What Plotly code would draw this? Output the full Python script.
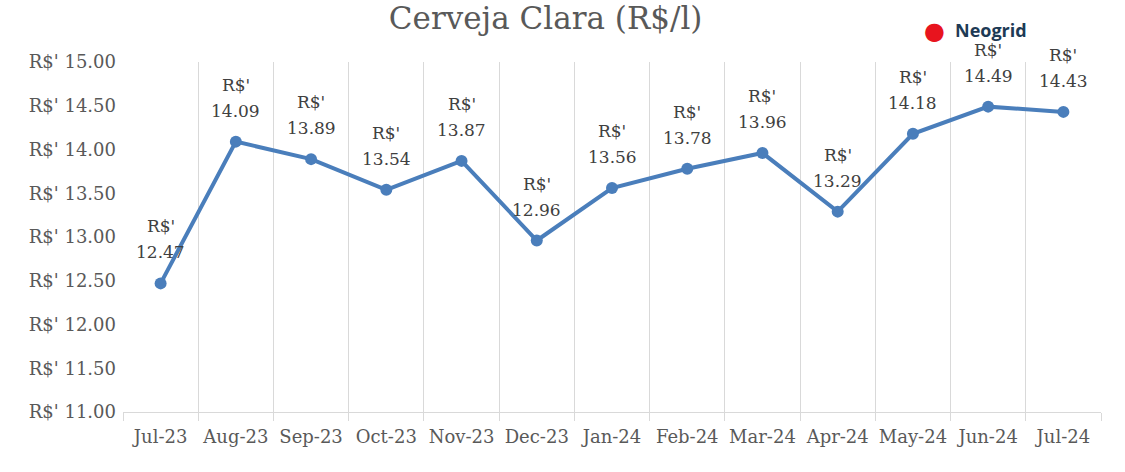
import plotly.graph_objects as go

months = ["Jul-23", "Aug-23", "Sep-23", "Oct-23", "Nov-23", "Dec-23", "Jan-24",
          "Feb-24", "Mar-24", "Apr-24", "May-24", "Jun-24", "Jul-24"]
prices = [12.47, 14.09, 13.89, 13.54, 13.87, 12.96, 13.56,
          13.78, 13.96, 13.29, 14.18, 14.49, 14.43]
y_ticks = [11.0, 11.5, 12.0, 12.5, 13.0, 13.5, 14.0, 14.5, 15.0]

FONT = "DejaVu Serif"
GREY = "#595959"
BLUE = "#4a7ebb"

fig = go.Figure()
fig.add_trace(
    go.Scatter(
        x=months,
        y=prices,
        mode="lines+markers",
        line={"color": BLUE, "width": 4},
        marker={"color": BLUE, "size": 12},
        hovertemplate="%{x}: R$' %{y:.2f}<extra></extra>",
    )
)

# data labels: two lines, spaced like the original
for month, price in zip(months, prices):
    fig.add_annotation(
        x=month, y=price, text=f"{price:.2f}",
        showarrow=False, yanchor="middle", yshift=31,
        font={"family": FONT, "size": 17, "color": "#404040"},
    )
    fig.add_annotation(
        x=month, y=price, text="R$'",
        showarrow=False, yanchor="middle", yshift=57,
        font={"family": FONT, "size": 17, "color": "#404040"},
    )

# logo
fig.add_annotation(
    xref="paper", yref="paper", x=0.830, y=1.088, xanchor="center", yanchor="middle",
    text="●", showarrow=False, font={"family": "DejaVu Sans", "size": 24, "color": "#e8141e"},
)
fig.add_annotation(
    xref="paper", yref="paper", x=0.849, y=1.092, xanchor="left", yanchor="middle",
    text="<b>Neogrid</b>", showarrow=False,
    font={"family": "Open Sans", "size": 18, "color": "#1d3a55"},
)

fig.update_layout(
    width=1125,
    height=472,
    margin={"l": 123, "r": 24, "t": 62, "b": 60},
    paper_bgcolor="#ffffff",
    plot_bgcolor="#ffffff",
    showlegend=False,
    title={"text": "Cerveja Clara (R$/l)", "x": 0.485, "xanchor": "center",
           "y": 0.962, "yanchor": "middle",
           "font": {"family": FONT, "size": 31, "color": GREY}},
    font={"family": FONT, "color": GREY, "size": 18},
)
fig.update_xaxes(
    type="category",
    tickson="boundaries",
    tickangle=0,
    automargin=False,
    showgrid=True, gridcolor="#d9d9d9", gridwidth=1,
    showline=True, linecolor="#d9d9d9", linewidth=1,
    ticks="outside", ticklen=8, tickcolor="#d9d9d9",
    ticklabelstandoff=8,
    tickfont={"family": FONT, "size": 18, "color": GREY},
    range=[-0.5, 12.5],
)
fig.update_yaxes(
    range=[11, 15],
    automargin=False,
    tickmode="array",
    tickvals=y_ticks,
    ticktext=[f"R$' {v:.2f}" for v in y_ticks],
    showgrid=False, zeroline=False, showline=False,
    ticks="", ticklabelstandoff=6,
    tickfont={"family": FONT, "size": 18, "color": GREY},
)

fig.write_html(
    "out.html",
    config={"displayModeBar": False},
    post_script="document.body.style.margin='0';",
)
